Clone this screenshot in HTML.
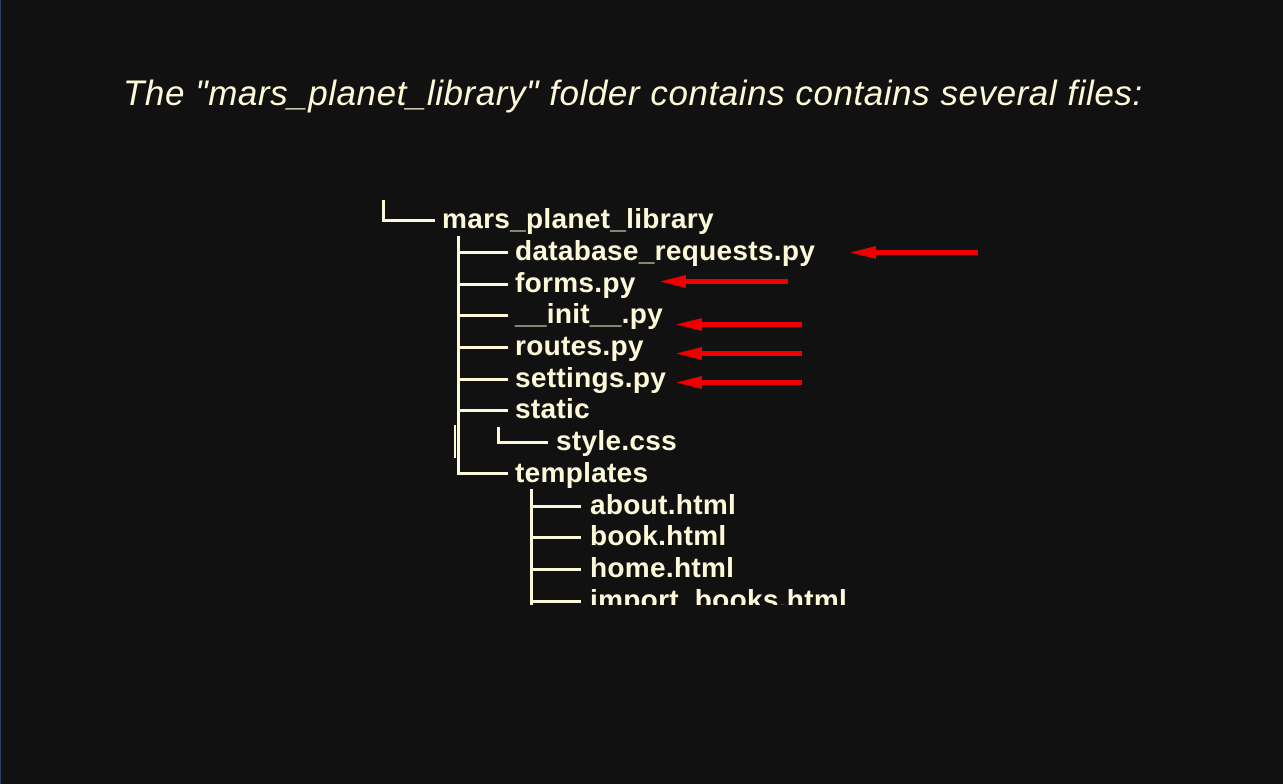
<!DOCTYPE html>
<html><head><style>
body{margin:0;width:1283px;height:784px;background:#111111;position:relative;overflow:hidden;font-family:"Liberation Sans",sans-serif;}
.t{position:absolute;left:123px;top:74px;font-size:35px;letter-spacing:0.55px;font-style:italic;color:#fcf8d8;white-space:nowrap;line-height:40px;}
.clip{position:absolute;left:0;top:196px;width:1283px;height:409px;overflow:hidden;}
.r{position:absolute;font-size:28px;letter-spacing:0.3px;font-weight:bold;color:#fcf8d8;line-height:32px;white-space:nowrap;}
.l{position:absolute;background:#fcf8d8;}
</style></head><body>
<div style="position:absolute;left:0;top:0;width:1px;height:784px;background:#2a3f6a"></div>
<div class="t">The "mars_planet_library" folder contains contains several files:</div>
<div class="clip">
 <div style="position:absolute;left:0;top:-196px;width:1283px;height:784px;">
  <div class="l" style="left:382px;top:200px;width:3px;height:21px"></div>
  <div class="l" style="left:382px;top:219px;width:53px;height:3px"></div>
  <div class="r" style="left:442px;top:203px">mars_planet_library</div>

  <div class="l" style="left:457px;top:236px;width:3px;height:238px"></div>
  <div class="l" style="left:454px;top:425px;width:2px;height:33px"></div>
  <div class="l" style="left:457px;top:251px;width:51px;height:3px"></div>
  <div class="l" style="left:457px;top:283px;width:51px;height:3px"></div>
  <div class="l" style="left:457px;top:314px;width:51px;height:3px"></div>
  <div class="l" style="left:457px;top:346px;width:51px;height:3px"></div>
  <div class="l" style="left:457px;top:378px;width:51px;height:3px"></div>
  <div class="l" style="left:457px;top:409px;width:51px;height:3px"></div>
  <div class="l" style="left:457px;top:472px;width:51px;height:3px"></div>
  <div class="r" style="left:515px;top:235px">database_requests.py</div>
  <div class="r" style="left:515px;top:267px">forms.py</div>
  <div class="r" style="left:515px;top:298px">__init__.py</div>
  <div class="r" style="left:515px;top:330px">routes.py</div>
  <div class="r" style="left:515px;top:362px">settings.py</div>
  <div class="r" style="left:515px;top:393px">static</div>
  <div class="l" style="left:497px;top:427px;width:3px;height:16px"></div>
  <div class="l" style="left:497px;top:441px;width:51px;height:3px"></div>
  <div class="r" style="left:556px;top:425px">style.css</div>
  <div class="r" style="left:515px;top:457px">templates</div>

  <div class="l" style="left:530px;top:489px;width:3px;height:120px"></div>
  <div class="l" style="left:530px;top:505px;width:51px;height:3px"></div>
  <div class="l" style="left:530px;top:536px;width:51px;height:3px"></div>
  <div class="l" style="left:530px;top:568px;width:51px;height:3px"></div>
  <div class="l" style="left:530px;top:600px;width:51px;height:3px"></div>
  <div class="r" style="left:590px;top:489px">about.html</div>
  <div class="r" style="left:590px;top:520px">book.html</div>
  <div class="r" style="left:590px;top:552px">home.html</div>
  <div class="r" style="left:590px;top:584px">import_books.html</div>
 </div>
</div>
<svg width="1283" height="784" style="position:absolute;left:0;top:0">
 <g fill="#ee0000">
  <rect x="872" y="250" width="106" height="5"/><polygon points="850,252.5 876,246 876,259"/>
  <rect x="682" y="279" width="106" height="5"/><polygon points="660,281.5 686,275 686,288"/>
  <rect x="698" y="322" width="104" height="5"/><polygon points="676,324.5 702,318 702,331"/>
  <rect x="698" y="351" width="104" height="5"/><polygon points="676,353.5 702,347 702,360"/>
  <rect x="698" y="380" width="104" height="5"/><polygon points="676,382.5 702,376 702,389"/>
 </g>
</svg>
</body></html>
